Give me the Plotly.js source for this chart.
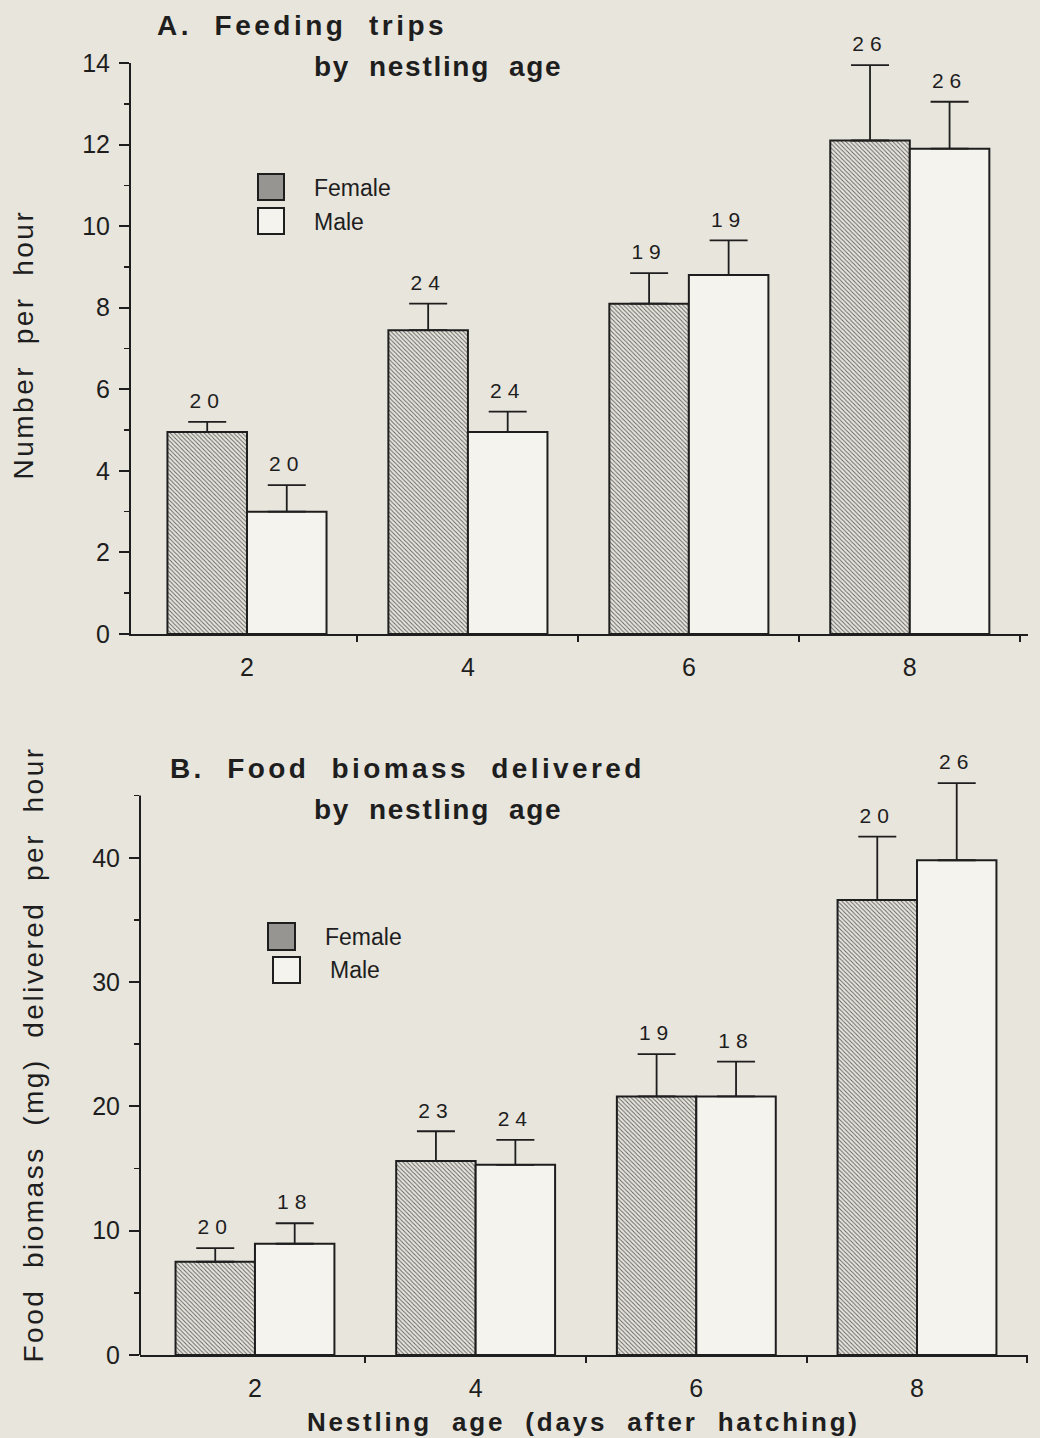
<!DOCTYPE html>
<html>
<head>
<meta charset="utf-8">
<script src="https://cdn.plot.ly/plotly-3.0.1.min.js"></script>
<style>
html, body { margin: 0; padding: 0; background: #e8e5dd; }
#chart { width: 1040px; height: 1438px; }
</style>
</head>
<body>
<div id="chart"></div>
<script>
// ---------- data ----------
const ages = [2, 4, 6, 8];
const ageTickLabels = ['2', '4', '6', '8'];

// Panel A: feeding trips (number per hour)
const tripsFemale   = [4.95, 7.45, 8.10, 12.10];
const tripsFemaleSE = [0.25, 0.65, 0.75, 1.85];
const tripsFemaleN  = [20, 24, 19, 26];
const tripsMale     = [3.00, 4.95, 8.80, 11.90];
const tripsMaleSE   = [0.65, 0.50, 0.85, 1.15];
const tripsMaleN    = [20, 24, 19, 26];

// Panel B: food biomass (mg) delivered per hour
const biomassFemale   = [7.5, 15.6, 20.8, 36.6];
const biomassFemaleSE = [1.1, 2.4, 3.4, 5.1];
const biomassFemaleN  = [20, 23, 19, 20];
const biomassMale     = [8.95, 15.3, 20.8, 39.8];
const biomassMaleSE   = [1.65, 2.0, 2.8, 6.2];
const biomassMaleN    = [18, 24, 18, 26];

// ---------- styling ----------
const W = 1040, H = 1438;
const FONT = 'Liberation Sans, Arial, Helvetica, sans-serif';
const INK = '#1e1e1e';
const BG = '#e8e5dd';
const BARGAP = 0.28;
const px = v => v / W;          // page x -> paper
const py = v => 1 - v / H;      // page y -> paper
const sp = (t, ls) => '<span style="letter-spacing:' + ls + 'px">' + t + '</span>';
const zeros = ages.map(() => 0);

const femaleMarker = {
  color: '#9f9e9a',
  line: { color: INK, width: 2 },
  pattern: { shape: '\\', fgcolor: '#606060', size: 3, solidity: 0.3 }
};
const maleMarker = { color: '#f5f3ed', line: { color: INK, width: 2 } };
const errStyle = { type: 'data', symmetric: false, color: INK, thickness: 1.8, width: 19 };

// half of one bar width in axis units (groups spaced 2 apart)
const half = (2 * (1 - BARGAP)) / 4;

function barTrace(name, y, se, marker, xa, ya) {
  return {
    type: 'bar', name: name, x: ages, y: y, xaxis: xa, yaxis: ya,
    marker: marker, hoverinfo: 'skip',
    error_y: Object.assign({ array: se, arrayminus: zeros }, errStyle)
  };
}
function nTrace(y, se, n, side, xa, ya) {
  return {
    type: 'scatter', mode: 'markers+text', xaxis: xa, yaxis: ya,
    x: ages.map(a => a + side * half),
    y: y.map((v, i) => v + se[i]),
    text: n.map(v => sp(String(v), 6)),
    textposition: 'top center',
    marker: { size: 12, opacity: 0 },
    textfont: { family: FONT, size: 21, color: INK },
    cliponaxis: false,
    hoverinfo: 'skip', showlegend: false
  };
}

const data = [
  barTrace('Female', tripsFemale, tripsFemaleSE, femaleMarker, 'x', 'y'),
  barTrace('Male', tripsMale, tripsMaleSE, maleMarker, 'x', 'y'),
  nTrace(tripsFemale, tripsFemaleSE, tripsFemaleN, -1, 'x', 'y'),
  nTrace(tripsMale, tripsMaleSE, tripsMaleN, 1, 'x', 'y'),
  barTrace('Female', biomassFemale, biomassFemaleSE, femaleMarker, 'x2', 'y2'),
  barTrace('Male', biomassMale, biomassMaleSE, maleMarker, 'x2', 'y2'),
  nTrace(biomassFemale, biomassFemaleSE, biomassFemaleN, -1, 'x2', 'y2'),
  nTrace(biomassMale, biomassMaleSE, biomassMaleN, 1, 'x2', 'y2')
];

function xAxis(domain, range, anchor) {
  return {
    domain: domain, range: range, anchor: anchor,
    tickmode: 'array', tickvals: ages, ticktext: ageTickLabels,
    ticks: '', ticklabelstandoff: 10,
    tickfont: { family: FONT, size: 25, color: INK },
    showline: true, linecolor: INK, linewidth: 2,
    showgrid: false, zeroline: false, fixedrange: true,
    minor: { tickvals: ages.map(a => a + 1), ticks: 'outside', ticklen: 6, tickwidth: 2, tickcolor: INK, showgrid: false }
  };
}
function yAxis(domain, range, dtick, anchor, showline) {
  return {
    domain: domain, range: range, anchor: anchor,
    tickmode: 'linear', tick0: 0, dtick: dtick,
    ticks: 'outside', ticklen: 10, tickwidth: 2, tickcolor: INK,
    ticklabelstandoff: 4,
    tickfont: { family: FONT, size: 25, color: INK },
    showline: showline, linecolor: INK, linewidth: 2,
    showgrid: false, zeroline: false, fixedrange: true,
    minor: { tick0: 0, dtick: dtick / 2, ticks: 'outside', ticklen: 5, tickwidth: 1.5, tickcolor: INK, showgrid: false }
  };
}

function ann(text, x, y, size, opts) {
  return Object.assign({
    xref: 'paper', yref: 'paper', x: px(x), y: py(y),
    xanchor: 'left', yanchor: 'middle', showarrow: false,
    text: text, font: { family: FONT, size: size, color: INK }
  }, opts || {});
}
const NB = '\u00A0';

const annotations = [
  ann(sp('<b>A.' + NB + ' Feeding' + NB + ' trips</b>', 3.5), 155, 25, 28),
  ann(sp('<b>by' + NB + ' nestling' + NB + ' age</b>', 1.7), 312, 66, 28),
  ann(sp('<b>B.' + NB + ' Food' + NB + ' biomass' + NB + ' delivered</b>', 3.4), 168, 768, 28),
  ann(sp('<b>by' + NB + ' nestling' + NB + ' age</b>', 1.7), 312, 809, 28),
  ann(sp('<b>Nestling' + NB + ' age' + NB + ' (days' + NB + ' after' + NB + ' hatching)</b>', 2.8), 305, 1422, 26),
  ann(sp('Number' + NB + ' per' + NB + ' hour', 2.5), 22.5, 345, 28, { xanchor: 'center', textangle: -90 }),
  ann(sp('Food' + NB + ' biomass' + NB + ' (mg)' + NB + ' delivered' + NB + ' per' + NB + ' hour', 2.5), 32.5, 1055, 28, { xanchor: 'center', textangle: -90 }),
  ann('Female', 312, 188, 23),
  ann('Male', 312, 222, 23),
  ann('Female', 323, 937, 23),
  ann('Male', 328, 970, 23)
];

function box(x0, y0, x1, y1, fill) {
  return {
    type: 'rect', xref: 'paper', yref: 'paper',
    x0: px(x0), x1: px(x1), y0: py(y1), y1: py(y0),
    fillcolor: fill, line: { color: INK, width: 2 }
  };
}
const BIOMASS_AXIS_TOP = 45;   // panel B y-axis line ends at 45
const shapes = [
  box(258, 174, 284, 200, '#969591'),
  box(258, 208, 284, 234, '#f5f3ed'),
  box(268, 923, 295, 950, '#969591'),
  box(273, 957, 300, 983, '#f5f3ed'),
  { type: 'line', xref: 'x2 domain', yref: 'y2', x0: 0, x1: 0, y0: 0, y1: BIOMASS_AXIS_TOP,
    line: { color: INK, width: 2 } }
];

const layout = {
  width: W, height: H,
  margin: { l: 0, r: 0, t: 0, b: 0, pad: 0 },
  paper_bgcolor: BG, plot_bgcolor: 'rgba(0,0,0,0)',
  font: { family: FONT, color: INK },
  barmode: 'group', bargap: BARGAP, bargroupgap: 0,
  showlegend: false,
  xaxis: xAxis([px(131), px(1028)], [0.95, 9.07], 'y'),
  yaxis: yAxis([py(634), py(63)], [0, 14], 2, 'x', true),
  xaxis2: xAxis([px(140), px(1028)], [0.958, 9.006], 'y2'),
  yaxis2: yAxis([py(1355), py(772)], [0, 46.9], 10, 'x2', false),
  annotations: annotations,
  shapes: shapes
};

Plotly.newPlot('chart', data, layout, { displayModeBar: false, staticPlot: true });
</script>
</body>
</html>
